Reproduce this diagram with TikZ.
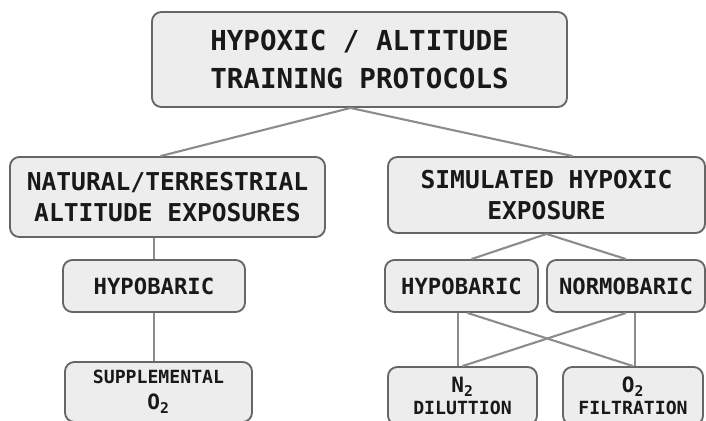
\documentclass[tikz,border=0pt]{standalone}
\usepackage{fontspec}
\setmonofont{DejaVu Sans Mono}
\usetikzlibrary{positioning, calc}
\definecolor{boxfill}{HTML}{EDEDED}
\definecolor{boxline}{HTML}{666666}
\definecolor{linkgray}{HTML}{8C8C8C}

\begin{document}
\begin{tikzpicture}[
  x=0.03cm, y=-0.03cm,
  box/.style={draw=boxline, fill=boxfill, line width=1.6pt, rounded corners=8pt, align=center, inner sep=0pt, text=black!90},
  big/.style={font=\ttfamily\bfseries\fontsize{21}{27}\selectfont},
  mid/.style={font=\ttfamily\bfseries\fontsize{19}{24}\selectfont},
  link/.style={draw=linkgray, line width=1.8pt}
]
\useasboundingbox (0,0) rectangle (706,420);
\clip (0,0) rectangle (706,420);

\node[box, minimum width=12.45cm, minimum height=2.85cm, font=\ttfamily\bfseries\fontsize{23.5}{32}\selectfont] (top) at (359.5, 59.5) {HYPOXIC / ALTITUDE\\TRAINING PROTOCOLS};

\node[box, big, minimum width=9.45cm, minimum height=2.4cm] (natural) at (167.5, 197) {NATURAL/TERRESTRIAL\\ALTITUDE EXPOSURES};
\node[box, big, minimum width=9.51cm, minimum height=2.28cm] (sim) at (546.5, 195) {SIMULATED HYPOXIC\\EXPOSURE};

\node[box, mid, minimum width=5.46cm, minimum height=1.56cm] (hyp1) at (154, 286) {HYPOBARIC};
\node[box, mid, minimum width=4.59cm, minimum height=1.56cm] (hyp2) at (461.5, 286) {HYPOBARIC};
\node[box, mid, minimum width=4.74cm, minimum height=1.56cm] (normo) at (626, 286) {NORMOBARIC};

\node[box, minimum width=5.61cm, minimum height=1.8cm, font=\ttfamily\bfseries\fontsize{15.5}{22}\selectfont] (supp) at (158.5, 392) {SUPPLEMENTAL\\{\fontsize{18}{22}\selectfont O\textsubscript{2}}};
\node[box, minimum width=4.47cm, minimum height=1.74cm, font=\ttfamily\bfseries\fontsize{15.5}{19}\selectfont] (n2) at (462.5, 396) {{\fontsize{18}{19}\selectfont N\textsubscript{2}}\\DILUTTION};
\node[box, minimum width=4.2cm, minimum height=1.74cm, font=\ttfamily\bfseries\fontsize{15.5}{19}\selectfont] (o2box) at (633, 396) {{\fontsize{18}{19}\selectfont O\textsubscript{2}}\\FILTRATION};

% left branch
\draw[link] ($(top.south)+(-9,0)$) -- ($(natural.north)+(-7,0)$);
\draw[link] (hyp1.north |- natural.south) -- (hyp1.north);
\draw[link] (hyp1.south) -- (hyp1.south |- supp.north);

% right branch
\draw[link] ($(top.south)+(-9,0)$) -- ($(sim.north)+(26,0)$);
\draw[link] (sim.south) -- ($(hyp2.north)+(10,0)$);
\draw[link] (sim.south) -- (normo.north);
\draw[link] ($(hyp2.south)+(-3.5,0)$) -- ($(n2.north)+(-4.5,0)$);
\draw[link] ($(hyp2.south)+(6,0)$) -- (o2box.north);
\draw[link] (normo.south) -- (n2.north);
\draw[link] ($(normo.south)+(9,0)$) -- ($(o2box.north)+(2,0)$);

\end{tikzpicture}
\end{document}
